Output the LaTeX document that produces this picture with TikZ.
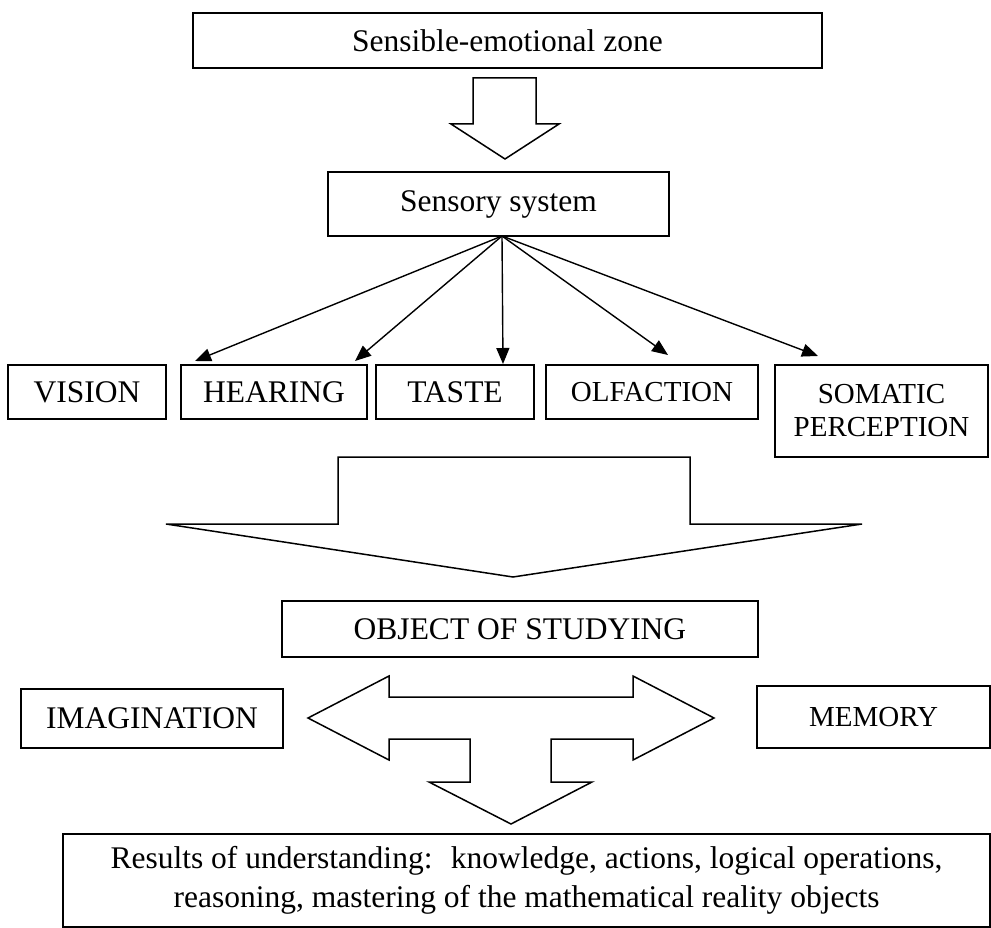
\documentclass[tikz,border=0pt]{standalone}
\usepackage{fontspec}
\setmainfont{Liberation Serif}
\usetikzlibrary{arrows.meta}
\begin{document}
\begin{tikzpicture}[x=1pt,y=-1pt,
  box/.style={draw, line width=1.6pt, inner sep=0pt, align=center,
    font=\fontsize{31.5}{36}\selectfont},
  smallbox/.style={box, font=\fontsize{29}{33}\selectfont},
  conn/.style={line width=1.4pt, -{Triangle[length=16pt,width=13pt]}},
  blockarrow/.style={draw, line width=1.5pt, line join=miter}]
\useasboundingbox (0,0) rectangle (991,928);

% boxes
\node[box, minimum width=629pt, minimum height=55pt] (zone) at (507.5,40.5) {Sensible-emotional zone};
\node[box, minimum width=341pt, minimum height=64pt] (ss) at (498.5,204) {Sensory system};
\node[box, minimum width=158pt, minimum height=54pt] (vision) at (87,392) {VISION};
\node[box, minimum width=186pt, minimum height=54pt] (hearing) at (274,392) {HEARING};
\node[box, minimum width=158pt, minimum height=54pt] (taste) at (455,392) {TASTE};
\node[smallbox, minimum width=212pt, minimum height=54pt] (olf) at (652,392) {OLFACTION};
\node[smallbox, minimum width=213pt, minimum height=92pt] (som) at (881.5,411) {SOMATIC\\PERCEPTION};
\node[box, minimum width=476pt, minimum height=56pt] (obj) at (520,629) {OBJECT OF STUDYING};
\node[box, minimum width=262pt, minimum height=59pt] (imag) at (152,718.5) {IMAGINATION};
\node[smallbox, minimum width=233pt, minimum height=62pt] (mem) at (873.5,717) {MEMORY};
\node[box, minimum width=927pt, minimum height=93pt, font=\fontsize{31.5}{39}\selectfont] (res) at (526.5,880.5)
  {Results of understanding: \ knowledge, actions, logical operations,\\reasoning, mastering of the mathematical reality objects};

% arrows fanning out of the sensory system
\coordinate (hub) at (502,236);
\coordinate (tV) at (195,361);
\coordinate (tH) at (355,361);
\coordinate (tT) at (503,364);
\coordinate (tO) at (668,355);
\coordinate (tS) at (818,356);
\draw[conn] (hub) -- (tV);
\draw[conn] (hub) -- (tH);
\draw[conn] (hub) -- (tT);
\draw[conn] (hub) -- (tO);
\draw[conn] (hub) -- (tS);

% hollow block arrows
\draw[blockarrow] (473,78) -- (536,78) -- (536,124) -- (559,124) -- (505,159)
  -- (451,124) -- (473,124) -- cycle;
\draw[blockarrow] (338,457) -- (690,457) -- (690,524) -- (862,524) -- (513,577)
  -- (166,524) -- (338,524) -- cycle;
\draw[blockarrow] (308,718) -- (389,676) -- (389,697) -- (633,697) -- (633,676)
  -- (714,718) -- (633,760) -- (633,739) -- (551,739) -- (551,782) -- (592,782)
  -- (511,824) -- (429,782) -- (470,782) -- (470,739) -- (389,739) -- (389,760) -- cycle;
\end{tikzpicture}
\end{document}
